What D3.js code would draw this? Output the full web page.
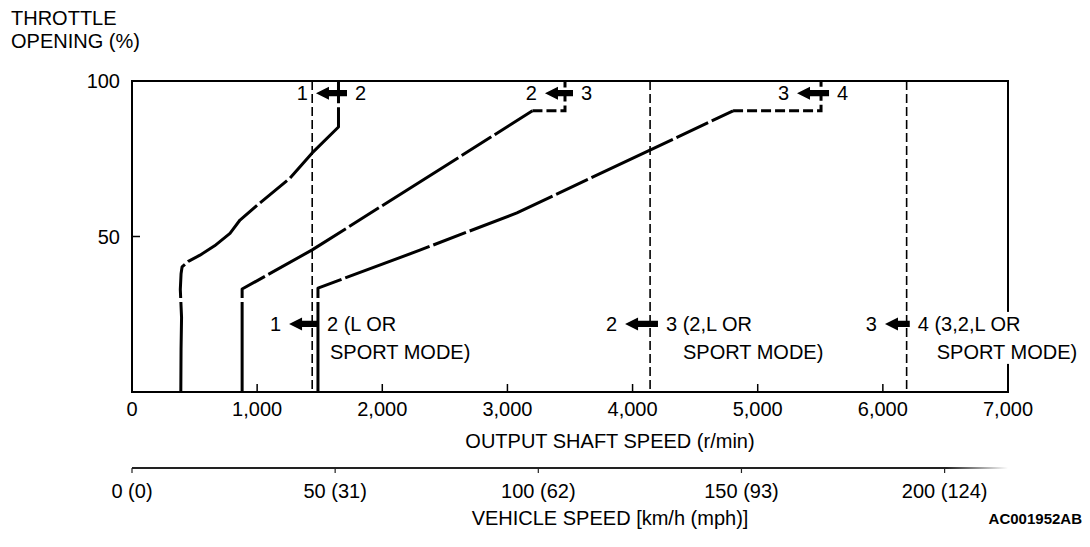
<!DOCTYPE html>
<html>
<head>
<meta charset="utf-8">
<script src="https://d3js.org/d3.v7.min.js"></script>
<style>
  body { margin: 0; background: #fff; }
  text { font-family: "Liberation Sans", Arial, sans-serif; fill: #000; }
</style>
</head>
<body>
<svg class="chart"></svg>
<script>
// shift pattern data: [output shaft rpm, throttle %]
var upshift12 = [[390, 0], [392, 14], [396, 24], [386, 33], [392, 38], [400, 40.2], [450, 42], [543, 44], [660, 47], [783, 51], [863, 55.3], [1023, 60.8], [1263, 68.8], [1438, 76.8], [1650, 85.2], [1650, 100]];
var upshift23 = [[880, 0], [880, 33.1], [1440, 45.7], [3200, 90.4]];
var upshift23Tail = [[3200, 90.4], [3460, 90.4], [3460, 100]];
var upshift34 = [[1486, 0], [1486, 33.4], [2300, 45.6], [3076, 57.6], [4803, 90.4]];
var upshift34Tail = [[4803, 90.4], [5506, 90.4], [5506, 100]];
var kickdownLines = [1440, 4140, 6190];

// arrows: [tip rpm, tail rpm, throttle %, left label, right label (lines)]
var arrowsTop = [
  [1470, 1718, 96.1, '1', ['2']],
  [3300, 3524, 96.1, '2', ['3']],
  [5314, 5570, 96.1, '3', ['4']]
];
var arrowsBottom = [
  [1255, 1494, 21.9, '1', ['2 (L OR', 'SPORT MODE)']],
  [3940, 4203, 21.9, '2', ['3 (2,L OR', 'SPORT MODE)']],
  [6017, 6215, 21.9, '3', ['4 (3,2,L OR', 'SPORT MODE)']]
];
var secondLineIndent = [3, 17, 19];

var rpmTicks = [0, 1000, 2000, 3000, 4000, 5000, 6000, 7000];
var throttleTicks = [50, 100];
var speedTicks = [0, 50, 100, 150, 200];
var speedLabels = ['0 (0)', '50 (31)', '100 (62)', '150 (93)', '200 (124)'];
var kmhPerRpm = 0.0308;

var W = 1090, H = 547;
var fs = 20;
var svg = d3.select('.chart').attr('width', W).attr('height', H);

var x = d3.scaleLinear().domain([0, 7000]).range([132, 1008]);
var y = d3.scaleLinear().domain([0, 100]).range([392, 81]);
var v = d3.scaleLinear().domain([0, 7000 * kmhPerRpm]).range([x(0), x(7000)]);

// gradient for the fading end of vehicle speed line
var grad = svg.append('defs').append('linearGradient').attr('id', 'fade');
grad.append('stop').attr('offset', '0.93').attr('stop-color', '#222');
grad.append('stop').attr('offset', '1').attr('stop-color', '#fff');

//frame
svg.append('rect')
  .attr('x', x(0)).attr('y', y(100))
  .attr('width', x(7000) - x(0)).attr('height', y(0) - y(100))
  .attr('fill', 'none').attr('stroke', '#000').attr('stroke-width', 2);

//X axis (ticks inside)
svg.append('g')
  .selectAll('line').data(rpmTicks.slice(1, -1)).enter().append('line')
  .attr('x1', d => x(d)).attr('x2', d => x(d))
  .attr('y1', y(0)).attr('y2', y(0) - 8)
  .attr('stroke', '#000').attr('stroke-width', 1.5);

svg.append('g')
  .selectAll('text').data(rpmTicks).enter().append('text')
  .attr('x', d => x(d)).attr('y', y(0) + 24)
  .attr('text-anchor', 'middle').attr('font-size', fs)
  .text(d => d3.format(',')(d));

svg.append('text').attr('x', 610).attr('y', 448)
  .attr('text-anchor', 'middle').attr('font-size', fs)
  .text('OUTPUT SHAFT SPEED (r/min)');

//Y axis
svg.append('g')
  .selectAll('line').data(throttleTicks.slice(0, -1)).enter().append('line')
  .attr('x1', x(0)).attr('x2', x(0) + 8)
  .attr('y1', d => y(d)).attr('y2', d => y(d))
  .attr('stroke', '#000').attr('stroke-width', 1.5);

svg.append('g')
  .selectAll('text').data(throttleTicks).enter().append('text')
  .attr('x', 120).attr('y', d => y(d) + 7)
  .attr('text-anchor', 'end').attr('font-size', fs)
  .text(d => d);

svg.append('text').attr('x', 11).attr('y', 25).attr('font-size', fs).text('THROTTLE');
svg.append('text').attr('x', 11).attr('y', 48).attr('font-size', fs).text('OPENING (%)');

//vehicle speed axis
var vy = 468;
svg.append('rect')
  .attr('x', v(0)).attr('y', vy - 1)
  .attr('width', x(7000) - x(0)).attr('height', 2)
  .attr('fill', 'url(#fade)');

svg.append('g')
  .selectAll('line').data(speedTicks).enter().append('line')
  .attr('x1', d => v(d)).attr('x2', d => v(d))
  .attr('y1', vy).attr('y2', vy + 5)
  .attr('stroke', '#222').attr('stroke-width', 1.2);

svg.append('g')
  .selectAll('text').data(speedTicks).enter().append('text')
  .attr('x', d => v(d)).attr('y', vy + 30)
  .attr('text-anchor', 'middle').attr('font-size', fs)
  .text((d, i) => speedLabels[i]);

svg.append('text').attr('x', 610).attr('y', 525)
  .attr('text-anchor', 'middle').attr('font-size', fs)
  .text('VEHICLE SPEED [km/h (mph)]');

svg.append('text').attr('x', 1082).attr('y', 524)
  .attr('text-anchor', 'end')
  .attr('font-size', 15).attr('font-weight', 'bold')
  .text('AC001952AB');

//kickdown lines
svg.append('g')
  .selectAll('line').data(kickdownLines).enter().append('line')
  .attr('x1', d => x(d)).attr('x2', d => x(d))
  .attr('y1', y(100)).attr('y2', y(0))
  .attr('stroke', '#000').attr('stroke-width', 1.6)
  .attr('stroke-dasharray', '9,4');

//shift curves
var line = d3.line().x(d => x(d[0])).y(d => y(d[1]));

[upshift12, upshift23, upshift34].forEach(function(c) {
  svg.append('path').datum(c)
    .attr('d', line)
    .attr('fill', 'none').attr('stroke', '#000').attr('stroke-width', 3)
    .attr('stroke-linejoin', 'round')
    .attr('stroke-dasharray', '90,4,35,4');
});

[upshift23Tail, upshift34Tail].forEach(function(c) {
  svg.append('path').datum(c)
    .attr('d', line)
    .attr('fill', 'none').attr('stroke', '#000').attr('stroke-width', 3)
    .attr('stroke-dasharray', '10,4');
});

//arrows
function drawArrow(a, indent) {
  var tip = x(a[0]), tail = x(a[1]), cy = y(a[2]);
  var len = tail - tip;
  var g = svg.append('g').attr('transform', 'translate(' + tip + ',' + cy + ')');

  // right label first so its white box sits under the arrow
  var lab = g.append('g');
  var t = lab.append('text').attr('y', 7).attr('font-size', fs);
  a[4].forEach(function(s, i) {
    t.append('tspan')
      .attr('x', len + 8 + (i == 0 ? 0 : indent))
      .attr('dy', i == 0 ? 0 : 28).text(s);
  });
  if (a[4].length > 1) {
    var bb = t.node().getBBox();
    lab.insert('rect', 'text')
      .attr('x', bb.x - 1).attr('y', bb.y - 1)
      .attr('width', bb.width + 2).attr('height', bb.height + 2)
      .attr('fill', '#fff');
  }

  g.append('path')
    .attr('d', 'M0,0 L13,-6.5 L13,-3.2 L' + len + ',-3.2 L' + len + ',3.2 L13,3.2 L13,6.5 Z')
    .attr('fill', '#000');

  g.append('text').attr('x', -8).attr('y', 7)
    .attr('text-anchor', 'end').attr('font-size', fs)
    .text(a[3]);
}

arrowsTop.forEach(a => drawArrow(a, 0));
arrowsBottom.forEach((a, i) => drawArrow(a, secondLineIndent[i]));
</script>
</body>
</html>
